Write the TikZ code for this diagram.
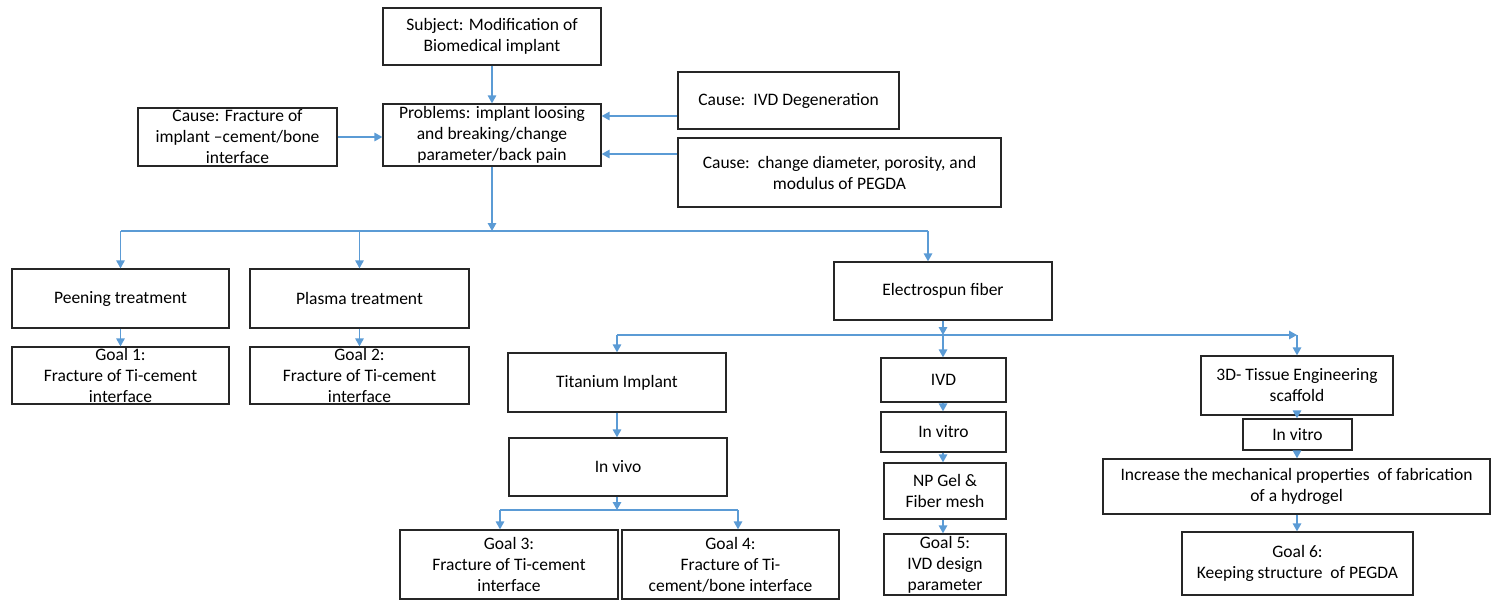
\documentclass[tikz,border=0pt]{standalone}
\usepackage{fontspec}
\setmainfont{Carlito}
\usetikzlibrary{arrows.meta}
\definecolor{linkblue}{RGB}{91,155,213}
\tikzset{
  box/.style={draw=black!85,line width=1.3pt,inner sep=0pt,align=center,
    font=\fontsize{17.5}{21}\selectfont},
  link/.style={draw=linkblue,line width=1.5pt},
  arr/.style={link,-{Triangle[length=8pt,width=8.5pt]}},
}
\begin{document}
\begin{tikzpicture}[x=1pt,y=-1pt]
\useasboundingbox (0,0) rectangle (1494,600);
%top
\node[box,minimum width=218,minimum height=57] (subject) at (492,36.5) {Subject: Modification of\\Biomedical implant};
\node[box,minimum width=218,minimum height=62] (problem) at (492,135) {Problems: implant loosing\\and breaking/change\\parameter/back pain};
\node[box,minimum width=199,minimum height=58] (causeL) at (237.5,137) {Cause: Fracture of\\implant --cement/bone\\interface};
\node[box,minimum width=221,minimum height=57] (causeIVD) at (788.5,100.5) {Cause:\ \ IVD Degeneration};
\node[box,minimum width=323,minimum height=69] (causeMod) at (839.5,172.5) {Cause:\ \ change diameter, porosity, and\\modulus of PEGDA};
\draw[arr] (subject) -- (problem);
\draw[arr] (causeL.east) -- (causeL.east -| problem.west);
\draw[arr] ([yshift=-15.5pt]causeIVD.west) coordinate (c1) -- (c1 -| problem.east);
\draw[arr] ([yshift=18.5pt]causeMod.west) coordinate (c2) -- (c2 -| problem.east);
%left branches
\node[box,minimum width=217,minimum height=59] (peening) at (120.5,298.5) {Peening treatment};
\node[box,minimum width=219,minimum height=59] (plasma) at (359.5,298.5) {Plasma treatment};
\node[box,minimum width=217,minimum height=57] (goalA) at (120.5,375.5) {Goal 1:\\Fracture of Ti-cement\\interface};
\node[box,minimum width=219,minimum height=57] (goalB) at (359.5,375.5) {Goal 2:\\Fracture of Ti-cement\\interface};
\node[box,minimum width=218,minimum height=58] (electro) at (943,291) {Electrospun fiber};
\coordinate (splitA) at (492,231);
\coordinate (eIn) at (928,231);
\draw[arr] (problem) -- (splitA);
\draw[link] (peening.north |- splitA) -- (eIn);
\draw[arr] (peening.north |- splitA) -- (peening.north);
\draw[arr] (plasma.north |- splitA) -- (plasma.north);
\draw[arr] (eIn) -- (eIn |- electro.north);
\draw[arr] (peening) -- (goalA);
\draw[arr] (plasma) -- (goalB);
%electrospun branches
\node[box,minimum width=218,minimum height=59] (titan) at (617,382.5) {Titanium Implant};
\node[box,minimum width=218,minimum height=58] (invivo) at (618,467) {In vivo};
\node[box,minimum width=218,minimum height=69] (goalC) at (509,564.5) {Goal 3:\\Fracture of Ti-cement\\interface};
\node[box,minimum width=217,minimum height=69] (goalD) at (730.5,564.5) {Goal 4:\\Fracture of Ti-\\cement/bone interface};
\node[box,minimum width=125,minimum height=44] (ivd) at (943.5,380) {IVD};
\node[box,minimum width=125,minimum height=40] (vitroA) at (943.5,432) {In vitro};
\node[box,minimum width=122,minimum height=56] (npgel) at (945,491) {NP Gel \&\\Fiber mesh};
\node[box,minimum width=122,minimum height=61] (goalE) at (945,564.5) {Goal 5:\\IVD design\\parameter};
\node[box,minimum width=192,minimum height=59] (tissue) at (1297,385.5) {3D- Tissue Engineering\\scaffold};
\node[box,minimum width=109,minimum height=31] (vitroB) at (1297.5,434.5) {In vitro};
\node[box,minimum width=387,minimum height=55] (increase) at (1296.5,486.5) {Increase the mechanical properties\ \ of fabrication\\of a hydrogel};
\node[box,minimum width=231,minimum height=63] (goalF) at (1297.5,563.5) {Goal 6:\\Keeping structure\ \ of PEGDA};
\coordinate (splitB) at (943,335);
\draw[arr] (electro) -- (splitB);
\draw[arr] (titan.north |- splitB) -- (tissue.north |- splitB);
\draw[arr] (titan.north |- splitB) -- (titan.north);
\draw[arr] (tissue.north |- splitB) -- (tissue.north);
\draw[arr] (splitB) -- (splitB |- ivd.north);
\draw[arr] (titan.south) -- (titan.south |- invivo.north);
\coordinate (splitC) at (617,510);
\coordinate (c3) at (500,510);
\coordinate (c4) at (738,510);
\draw[arr] (invivo.south -| splitC) -- (splitC);
\draw[link] (c3) -- (c4);
\draw[arr] (c3) -- (c3 |- goalC.north);
\draw[arr] (c4) -- (c4 |- goalD.north);
\draw[arr] (ivd.south -| splitB) -- (splitB |- vitroA.north);
\draw[arr] (vitroA.south -| splitB) -- (splitB |- npgel.north);
\draw[arr] (npgel.south -| splitB) -- (splitB |- goalE.north);
\draw[arr] (tissue.south) -- (tissue.south |- vitroB.north);
\draw[arr] (vitroB.south -| tissue) -- (tissue |- increase.north);
\draw[arr] (increase.south -| tissue) -- (tissue |- goalF.north);
\end{tikzpicture}
\end{document}
